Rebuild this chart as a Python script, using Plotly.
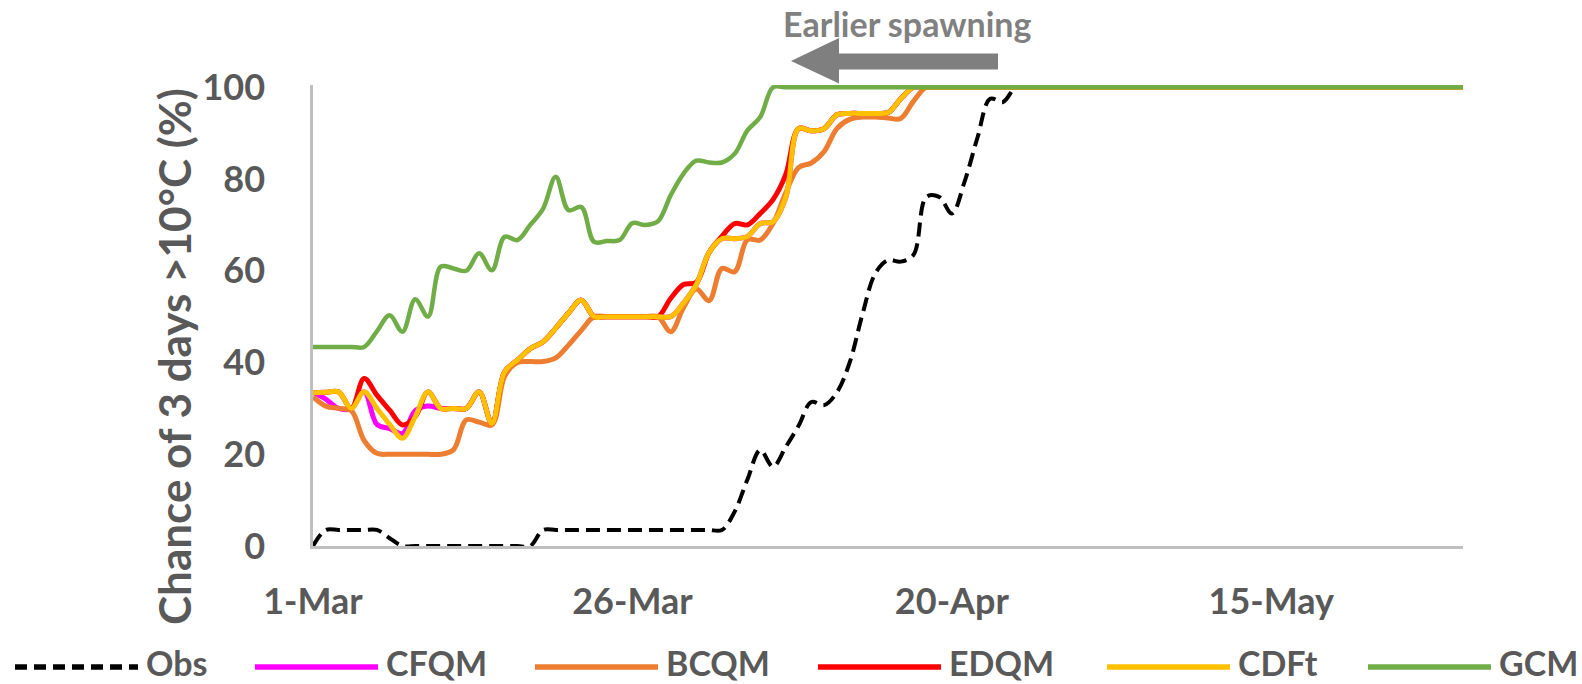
import pandas as pd
import plotly.graph_objects as go

# ---------------- data ----------------
dates = pd.date_range("2001-03-01", "2001-05-30", freq="D")

obs = [0, 3.5, 3.5, 3.5, 3.5, 3.5, 1.7, 0, 0, 0,
       0, 0, 0, 0, 0, 0, 0, 0, 3.5, 3.5,
       3.5, 3.5, 3.5, 3.5, 3.5, 3.5, 3.5, 3.5, 3.5, 3.5,
       3.5, 3.5, 3.5, 7.5, 14.5, 20.9, 17.3, 21.6, 26.2, 31.4,
       30.7, 33.5, 40.0, 50.5, 59.4, 62.3, 62.0, 63.5, 76.1, 76.1,
       72.5, 79.5, 89.0, 97.5, 96.8, 100, 100, 100, 100, 100,
       100, 100, 100, 100, 100, 100, 100, 100, 100, 100,
       100, 100, 100, 100, 100, 100, 100, 100, 100, 100,
       100, 100, 100, 100, 100, 100, 100, 100, 100, 100,
       100]

cfqm = [33.5, 32.0, 30.0, 30.0, 33.6, 26.5, 25.6, 24.5, 29.5, 30.5,
        30.0, 30.0, 30.0, 33.6, 26.7, 38.0, 40.5, 43.0, 44.5, 47.5,
        50.8, 53.6, 50.0, 50.0, 50.0, 50.0, 50.0, 50.0, 50.0, 53.0,
        57.0, 64.0, 67.0, 67.0, 67.5, 70.3, 70.7, 76.0, 91.0, 90.5,
        91.0, 94.0, 94.3, 94.3, 94.3, 94.5, 97.5, 100, 100, 100,
        100, 100, 100, 100, 100, 100, 100, 100, 100, 100,
        100, 100, 100, 100, 100, 100, 100, 100, 100, 100,
        100, 100, 100, 100, 100, 100, 100, 100, 100, 100,
        100, 100, 100, 100, 100, 100, 100, 100, 100, 100,
        100]

bcqm = [32.5, 30.5, 30.0, 29.5, 23.0, 20.2, 20.0, 20.0, 20.0, 20.0,
        20.0, 21.0, 27.5, 27.0, 26.4, 37.0, 40.0, 40.2, 40.2, 41.0,
        43.8, 47.0, 50.0, 50.0, 50.0, 50.0, 50.0, 50.0, 46.7, 52.0,
        56.0, 53.5, 60.5, 59.8, 66.8, 66.7, 70.3, 77.0, 82.5, 83.5,
        86.0, 91.0, 93.0, 93.5, 93.5, 93.3, 93.2, 97.0, 100, 100,
        100, 100, 100, 100, 100, 100, 100, 100, 100, 100,
        100, 100, 100, 100, 100, 100, 100, 100, 100, 100,
        100, 100, 100, 100, 100, 100, 100, 100, 100, 100,
        100, 100, 100, 100, 100, 100, 100, 100, 100, 100,
        100]

edqm = [33.4, 33.5, 33.6, 30.0, 36.5, 32.9, 29.6, 26.4, 28.2, 33.6,
        30.0, 30.0, 30.0, 33.6, 26.7, 38.0, 40.5, 43.0, 44.5, 47.5,
        50.8, 53.6, 50.0, 50.0, 50.0, 50.0, 50.0, 50.0, 54.0, 57.0,
        57.5, 64.0, 67.5, 70.3, 70.0, 72.5, 75.5, 81.0, 91.0, 90.5,
        91.0, 94.0, 94.3, 94.3, 94.3, 94.5, 97.5, 100, 100, 100,
        100, 100, 100, 100, 100, 100, 100, 100, 100, 100,
        100, 100, 100, 100, 100, 100, 100, 100, 100, 100,
        100, 100, 100, 100, 100, 100, 100, 100, 100, 100,
        100, 100, 100, 100, 100, 100, 100, 100, 100, 100,
        100]

cdft = [33.4, 33.5, 33.6, 30.0, 33.6, 30.0, 26.5, 23.5, 28.2, 33.6,
        30.0, 30.0, 30.0, 33.6, 26.7, 38.0, 40.5, 43.0, 44.5, 47.5,
        50.8, 53.6, 50.0, 50.0, 50.0, 50.0, 50.0, 50.0, 50.0, 53.0,
        57.0, 64.0, 67.0, 67.0, 67.5, 70.3, 70.7, 76.0, 91.0, 90.5,
        91.0, 94.0, 94.3, 94.3, 94.3, 94.5, 97.5, 100, 100, 100,
        100, 100, 100, 100, 100, 100, 100, 100, 100, 100,
        100, 100, 100, 100, 100, 100, 100, 100, 100, 100,
        100, 100, 100, 100, 100, 100, 100, 100, 100, 100,
        100, 100, 100, 100, 100, 100, 100, 100, 100, 100,
        100]

gcm = [43.4, 43.4, 43.4, 43.4, 43.4, 46.8, 50.3, 46.7, 53.8, 50.0,
       60.9, 60.5, 60.0, 63.8, 60.1, 67.4, 66.7, 70.0, 73.5, 80.5,
       73.2, 73.9, 66.3, 66.5, 66.7, 70.4, 70.0, 70.8, 76.5, 81.2,
       84.0, 83.6, 83.6, 85.5, 90.6, 93.5, 100, 100, 100, 100,
       100, 100, 100, 100, 100, 100, 100, 100, 100, 100,
       100, 100, 100, 100, 100, 100, 100, 100, 100, 100,
       100, 100, 100, 100, 100, 100, 100, 100, 100, 100,
       100, 100, 100, 100, 100, 100, 100, 100, 100, 100,
       100, 100, 100, 100, 100, 100, 100, 100, 100, 100,
       100]

series_names = ["Obs", "CFQM", "BCQM", "EDQM", "CDFt", "GCM"]
series_values = [obs, cfqm, bcqm, edqm, cdft, gcm]
series_colors = ["#000000", "#FF00FF", "#ED7D31", "#FF0000", "#FFC000", "#70AD47"]

tick_dates = ["2001-03-01", "2001-03-26", "2001-04-20", "2001-05-15"]
tick_labels = ["1-Mar", "26-Mar", "20-Apr", "15-May"]
y_ticks = [0, 20, 40, 60, 80, 100]

# ---------------- layout geometry ----------------
W, H = 1582, 684
ML, MR, MT, MB = 313, 119, 85, 138
PW, PH = W - ML - MR, H - MT - MB

def px(x):
    return (x - ML) / PW

def py(y):
    return (H - MB - y) / PH

FONT = "Lato"
TXT = "#595959"

fig = go.Figure()
for name, vals, col in zip(series_names, series_values, series_colors):
    if name == "Obs":
        line = dict(color=col, width=4, dash="14px,7px", shape="spline", smoothing=1.0)
    else:
        line = dict(color=col, width=5 if name != "GCM" else 4.5, shape="spline", smoothing=1.0)
    fig.add_trace(go.Scatter(x=dates, y=vals, mode="lines", name=name, line=line,
                             showlegend=False))

fig.update_layout(
    width=W, height=H,
    margin=dict(l=ML, r=MR, t=MT, b=MB),
    plot_bgcolor="white", paper_bgcolor="white",
    font=dict(family=FONT, color=TXT, size=36, weight="bold"),
    xaxis=dict(range=["2001-03-01", "2001-05-30"], tickvals=tick_dates, ticktext=tick_labels,
               showline=True, linecolor="#BFBFBF", linewidth=2.5, showgrid=False,
               zeroline=False, ticks="", ticklabelstandoff=22,
               tickfont=dict(family=FONT, size=36, color=TXT, weight="bold")),
    yaxis=dict(range=[0, 100.5], tickvals=y_ticks,
               showline=True, linecolor="#BFBFBF", linewidth=2.5, showgrid=False,
               zeroline=False, ticks="", ticklabelstandoff=38,
               tickfont=dict(family=FONT, size=36, color=TXT, weight="bold")),
)

annotations = []
shapes = []

# y-axis title
annotations.append(dict(x=px(174), y=py(357), xref="paper", yref="paper",
                        text="Chance of 3 days >10°C (%)", textangle=-90, showarrow=False,
                        xanchor="center", yanchor="middle",
                        font=dict(family=FONT, size=44, color=TXT, weight="bold")))

# "Earlier spawning" arrow
pts = [(791, 61), (839, 38), (839, 53.5), (998, 53.5), (998, 69.5), (839, 69.5), (839, 83.5)]
path = "M " + " L ".join(f"{px(a):.5f},{py(b):.5f}" for a, b in pts) + " Z"
shapes.append(dict(type="path", path=path, xref="paper", yref="paper",
                   fillcolor="#7F7F7F", line=dict(width=0)))
annotations.append(dict(x=px(907), y=py(24), xref="paper", yref="paper",
                        text="Earlier spawning", showarrow=False, xanchor="center", yanchor="middle",
                        font=dict(family=FONT, size=34, color="#808080", weight="bold")))

# manual legend
leg_starts = [15, 255, 535, 818, 1107, 1368]
LEG_LEN = 123
LEG_Y = 667
for name, col, x0 in zip(series_names, series_colors, leg_starts):
    ln = dict(color=col, width=5.5)
    if name == "Obs":
        ln["dash"] = "12px,7px"
    shapes.append(dict(type="line", xref="paper", yref="paper",
                       x0=px(x0), x1=px(x0 + LEG_LEN), y0=py(LEG_Y), y1=py(LEG_Y), line=ln))
    annotations.append(dict(x=px(x0 + LEG_LEN + 7), y=py(LEG_Y - 5), xref="paper", yref="paper",
                            text=name, showarrow=False, xanchor="left", yanchor="middle",
                            borderpad=0,
                            font=dict(family=FONT, size=34, color=TXT, weight="bold")))

fig.update_layout(annotations=annotations, shapes=shapes)
fig.write_html("out.html", config={"displayModeBar": False},
               post_script="document.body.style.margin='0';document.body.style.overflow='hidden';")
